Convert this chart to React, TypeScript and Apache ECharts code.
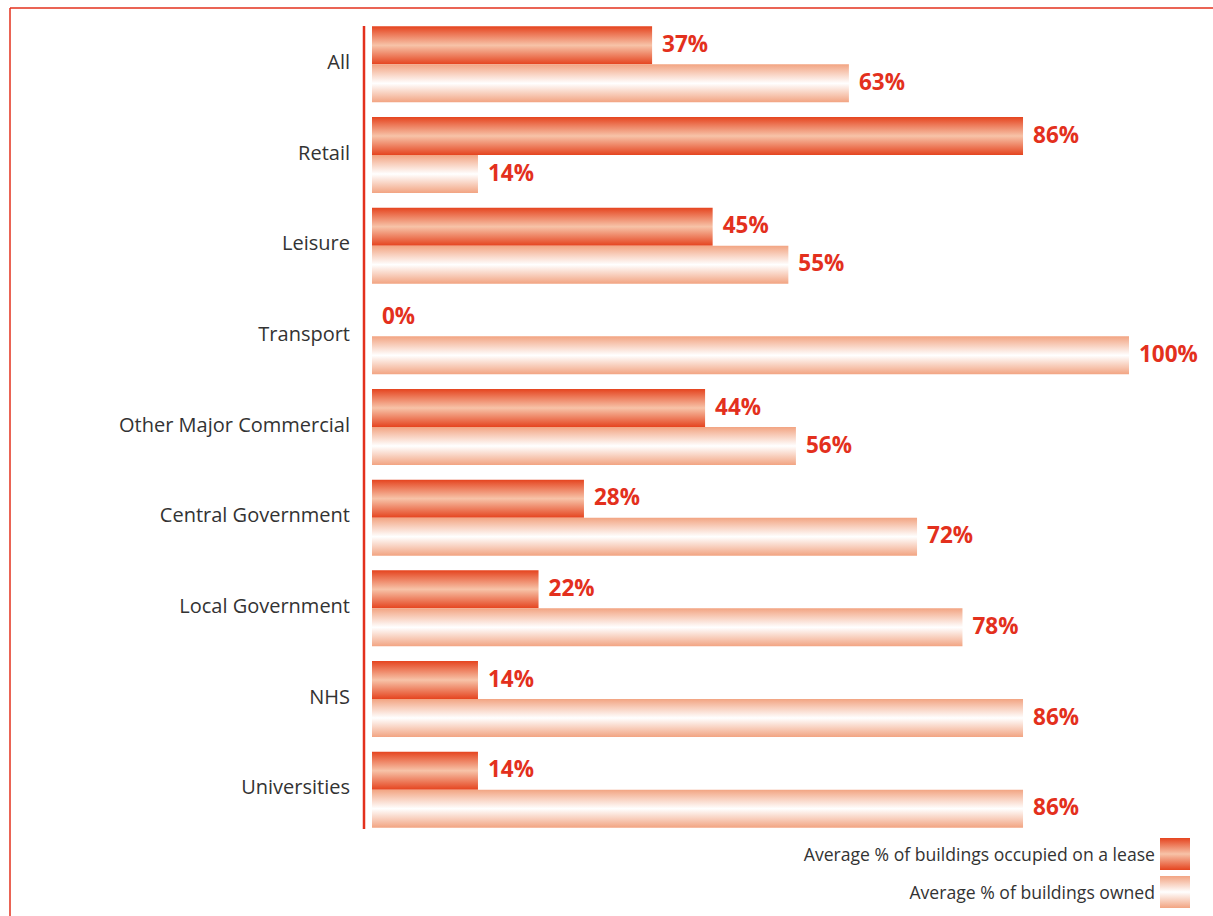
import React, { useEffect, useRef } from "react";
import * as echarts from "echarts";

const categories = [
  "All",
  "Retail",
  "Leisure",
  "Transport",
  "Other Major Commercial",
  "Central Government",
  "Local Government",
  "NHS",
  "Universities",
];
const leaseValues = [37, 86, 45, 0, 44, 28, 22, 14, 14];
const ownedValues = [63, 14, 55, 100, 56, 72, 78, 86, 86];
const seriesNames = [
  "Average % of buildings occupied on a lease",
  "Average % of buildings owned",
];

const RED = "#e3301d";
const FONT = "Open Sans";

export default function App() {
  const ref = useRef<HTMLDivElement>(null);
  useEffect(() => {
    const chart = echarts.init(ref.current!, null, { renderer: "svg" });
    const leaseGrad = new echarts.graphic.LinearGradient(0, 0, 0, 1, [
      { offset: 0, color: "#e5441f" },
      { offset: 0.5, color: "#f7c3a8" },
      { offset: 1, color: "#e5441f" },
    ]);
    const ownedGrad = new echarts.graphic.LinearGradient(0, 0, 0, 1, [
      { offset: 0, color: "#f2a482" },
      { offset: 0.5, color: "#ffffff" },
      { offset: 1, color: "#f2a482" },
    ]);
    const label = {
      show: true,
      position: "right" as const,
      distance: 10,
      formatter: (p: any) => `{v|${p.value}%}`,
      rich: {
        v: {
          color: RED,
          fontWeight: "bold" as const,
          fontSize: 22.5,
          fontFamily: FONT,
          padding: [0, 0, 4, 0],
        },
      },
    };
    chart.setOption({
      animation: false,
      grid: { left: 372, right: 84, top: 19, bottom: 81, containLabel: false },
      xAxis: {
        type: "value",
        min: 0,
        max: 100,
        show: false,
      },
      yAxis: {
        type: "category",
        data: categories,
        inverse: true,
        axisLine: { show: false },
        axisTick: { show: false },
        splitLine: { show: false },
        axisLabel: {
          margin: 22,
          formatter: (v: string) => `{c|${v}}`,
          rich: {
            c: {
              color: "#333",
              fontSize: 20,
              fontFamily: FONT,
              padding: [0, 0, 6, 0],
            },
          },
        },
      },
      legend: {
        orient: "vertical",
        right: 23,
        top: 838,
        padding: 0,
        align: "right",
        icon: "rect",
        itemWidth: 30,
        itemHeight: 32,
        itemGap: 6,
        textStyle: { color: "#333", fontSize: 17.6, fontFamily: FONT },
        itemStyle: { borderWidth: 0 },
        data: seriesNames,
      },
      series: [
        {
          name: seriesNames[0],
          type: "bar",
          data: leaseValues,
          barWidth: 38,
          barGap: "0%",
          itemStyle: { color: leaseGrad },
          label,
        },
        {
          name: seriesNames[1],
          type: "bar",
          data: ownedValues,
          barWidth: 38,
          barGap: "0%",
          itemStyle: { color: ownedGrad },
          label,
        },
      ],
      graphic: [
        { type: "line", shape: { x1: 10, y1: 8, x2: 1213, y2: 8 }, style: { stroke: RED, lineWidth: 1.5 } },
        { type: "line", shape: { x1: 10, y1: 8, x2: 10, y2: 916 }, style: { stroke: RED, lineWidth: 1.5 } },
        { type: "line", shape: { x1: 364, y1: 26, x2: 364, y2: 829 }, style: { stroke: RED, lineWidth: 2.5 } },
      ],
    });
    return () => chart.dispose();
  }, []);
  return (
    <div
      ref={ref}
      style={{ position: "fixed", left: 0, top: 0, width: 1213, height: 916, background: "#fff" }}
    />
  );
}
